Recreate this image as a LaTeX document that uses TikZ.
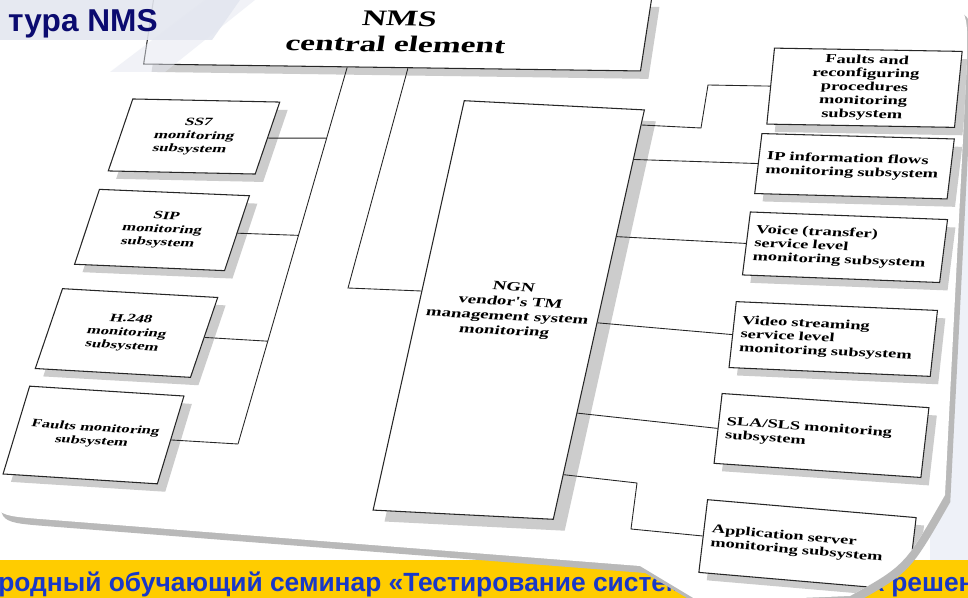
\documentclass[tikz,border=0pt]{standalone}
\usepackage{fontspec}
\setmainfont{Liberation Serif}
\newfontfamily\diagfont[FakeStretch=1.5]{Liberation Serif}
\newfontfamily\slidefont{Liberation Sans}
\usetikzlibrary{calc,shadows}
\definecolor{titlenavy}{HTML}{0B0B70}
\definecolor{bandyellow}{HTML}{FFCC00}
\definecolor{bandblue}{HTML}{1838C8}
\definecolor{paleblue}{HTML}{EEF1F8}
\definecolor{titlegray}{HTML}{E4E7F0}
\newcommand{\cardoutline}{(150,-40) -- (915,1) .. controls (968,3) .. (967,60) -- (945,495) .. controls (905,565) .. (850,596) -- (700,602) -- (640,566) -- (40,519) .. controls (-10,515) .. (3,462) -- cycle}

\begin{document}
\begin{tikzpicture}[
        x=0.02cm, y=-0.02cm,
        box/.style={draw=black!85, line width=0.6pt, fill=white, inner sep=0pt, transform shape, align=center,
            drop shadow={shadow xshift=#1, shadow yshift=-#1, fill=gray!40, opacity=1}},
        box/.default=4.5pt,
        lbox/.style={box, font=\diagfont\bfseries\fontsize{6.4}{7.6}\selectfont},
        rbox/.style={box, font=\diagfont\bfseries\fontsize{7}{7.7}\selectfont},
        rleft/.style={rbox, align=left, inner xsep=0.16cm},
        link/.style={draw=black!85, line width=0.5pt}
    ]
    \useasboundingbox (0,0) rectangle (968,598);

    % Slide background
    \fill[white] (0,0) rectangle (968,598);
    \fill[paleblue] (930,40) rectangle (968,598);

    % Footer band
    \fill[bandyellow] (0,560) rectangle (968,598);
    \node[anchor=base west, inner sep=0pt, text=bandblue, font=\slidefont\bfseries\fontsize{15}{17}\selectfont] (seminar) at (-2,591) {родный обучающий семинар «Тестирование систем};
    \node[anchor=base east, inner sep=0pt, text=bandblue, font=\slidefont\bfseries\fontsize{15}{17}\selectfont] (seminarEnd) at (975,591) {к решен};

    % Card
    \fill[gray!55, xshift=3pt, yshift=-4pt] \cardoutline;
    \fill[white] \cardoutline;

    \begin{scope}
    \clip \cardoutline;

    % NMS central element
    \node[box, minimum width=9.96cm, minimum height=1.44cm, xslant=0.14, rotate=-0.8,
        font=\diagfont\bfseries\fontsize{12.7}{14.8}\selectfont] (nms) at (397.6,31.5) {NMS\\central element};

    % Left subsystems
    \node[lbox, minimum width=2.96cm, minimum height=1.44cm, xslant=0.32, rotate=-1.2] (ss7) at (194,136.5) {SS7\\monitoring\\subsystem};
    \node[lbox, minimum width=3.04cm, minimum height=1.5cm, xslant=0.29, rotate=-2.4] (sip) at (162,230) {SIP\\monitoring\\subsystem};
    \node[lbox, minimum width=3.16cm, minimum height=1.6cm, xslant=0.285, rotate=-3.2] (h248) at (126.5,333) {H.248\\monitoring\\subsystem};
    \node[lbox, minimum width=3.14cm, minimum height=1.76cm, xslant=0.24, rotate=-3.6] (fmon) at (93.5,435) {Faults monitoring\\subsystem};

    % NGN vendor's TM
    \node[box=6.5pt, minimum width=3.64cm, minimum height=8.2cm, xslant=0.172, rotate=-2.9,
        font=\diagfont\bfseries\fontsize{7.2}{8.3}\selectfont] (ngn) at (508.75,310) {NGN\\vendor's TM\\management system\\monitoring};

    % Right subsystems
    \node[rbox, minimum width=3.76cm, minimum height=1.52cm, xslant=0.083, rotate=-1] (frec) at (864.5,87.75) {Faults and\\reconfiguring\\procedures\\monitoring\\subsystem};
    \node[rleft, text width=3.54cm, minimum width=3.86cm, minimum height=1.2cm, xslant=0.092, rotate=-1.6] (ipf) at (854.5,166.25) {IP information flows\\monitoring subsystem};
    \node[rleft, text width=3.64cm, minimum width=3.96cm, minimum height=1.26cm, xslant=0.087, rotate=-2.2] (voice) at (845,247.25) {Voice (transfer)\\service level\\monitoring subsystem};
    \node[rleft, text width=3.72cm, minimum width=4.04cm, minimum height=1.32cm, xslant=0.066, rotate=-2.5] (video) at (833.25,339) {Video streaming\\service level\\monitoring subsystem};
    \node[rleft, text width=3.84cm, minimum width=4.16cm, minimum height=1.4cm, xslant=0.047, rotate=-3.9] (sla) at (821.5,435.5) {SLA/SLS monitoring\\subsystem};
    \node[rleft, text width=3.88cm, minimum width=4.2cm, minimum height=1.46cm, xslant=0.034, rotate=-4.9] (app) at (807.5,545) {Application server\\monitoring subsystem};

    % NMS links
    \coordinate (busTop) at ($(nms.south west)!0.41!(nms.south east)$);
    \coordinate (nmsDrop) at ($(nms.south west)!0.532!(nms.south east)$);
    \coordinate (busEnd) at (238,444);
    \coordinate (ngnBend) at (348,288);
    \draw[link] (busTop) -- (busEnd);
    \draw[link] (nmsDrop) -- (ngnBend) -- ($(ngn.north west)!0.465!(ngn.south west)$);

    % Left taps
    \draw[link] (ss7.east) -- ($(busTop)!0.188!(busEnd)$);
    \draw[link] (sip.east) -- ($(busTop)!0.446!(busEnd)$);
    \draw[link] (h248.east) -- ($(busTop)!0.727!(busEnd)$);
    \draw[link] (fmon.east) -- (busEnd);

    % Right taps
    \coordinate (fbendA) at (701,128);
    \coordinate (fbendB) at (708,85);
    \coordinate (abendA) at (637,483);
    \coordinate (abendB) at (631,529);
    \draw[link] ($(ngn.north east)!0.038!(ngn.south east)$) -- (fbendA) -- (fbendB) -- (frec.west);
    \draw[link] ($(ngn.north east)!0.122!(ngn.south east)$) -- (ipf.west);
    \draw[link] ($(ngn.north east)!0.31!(ngn.south east)$) -- (voice.west);
    \draw[link] ($(ngn.north east)!0.52!(ngn.south east)$) -- (video.west);
    \draw[link] ($(ngn.north east)!0.74!(ngn.south east)$) -- (sla.west);
    \draw[link] ($(ngn.north east)!0.89!(ngn.south east)$) -- (abendA) -- (abendB) -- (app.west);
    \end{scope}

    % Slide title
    \fill[titlegray, opacity=0.9] (0,0) -- (240,0) -- (212,40) -- (0,40) -- cycle;
    \fill[titlegray, opacity=0.5] (205,0) -- (255,0) -- (165,72) -- (110,72) -- cycle;
    \node[anchor=base east, inner sep=0pt, text=titlenavy, font=\slidefont\bfseries\fontsize{18}{20}\selectfont] (title) at (158,32) {тура NMS};

\end{tikzpicture}
\end{document}
